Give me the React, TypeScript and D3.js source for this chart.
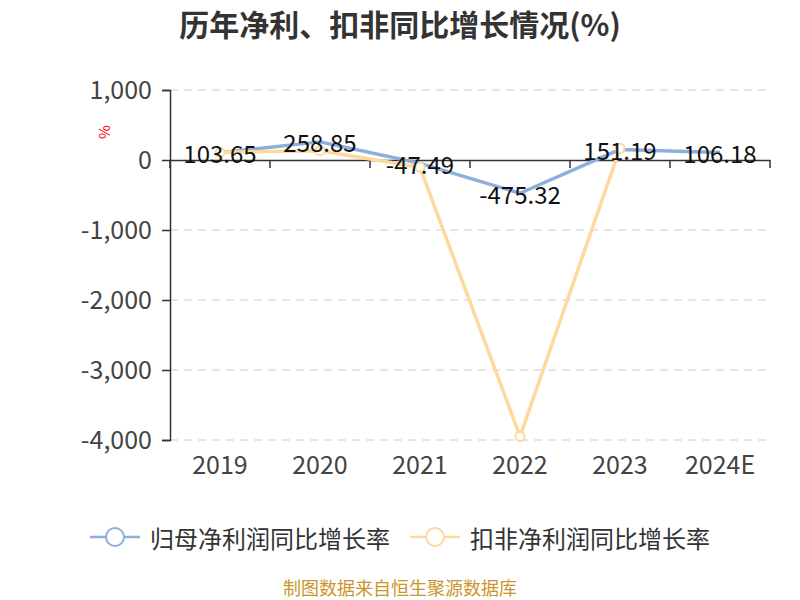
import React, { useRef, useEffect } from 'react';
import * as d3 from 'd3';

const years = ['2019', '2020', '2021', '2022', '2023', '2024E'];
const netProfitGrowth = [103.65, 258.85, -47.49, -475.32, 151.19, 106.18];
const deductedGrowth = [110, 133, -105, -3950, 167, null];
const yTicks = [1000, 0, -1000, -2000, -3000, -4000];
const seriesNames = ['归母净利润同比增长率', '扣非净利润同比增长率'];

const blue = '#8eaedd';
const yellow = '#fdd99b';
const font = '"Microsoft YaHei", "Noto Sans CJK SC", "Noto Sans", sans-serif';

const App: React.FC = () => {
  const svgRef = useRef<SVGSVGElement | null>(null);

  useEffect(() => {
    if (!svgRef.current) return;
    const svg = d3.select(svgRef.current);
    svg.selectAll('*').remove();

    const width = 800;
    const height = 600;
    svg.attr('width', width).attr('height', height).style('font-family', font);

    const x = d3.scaleBand().domain(years).range([170, 770]);
    const y = d3.scaleLinear().domain([-4000, 1000]).range([440, 90]);
    const cx = (d: string) => (x(d) as number) + x.bandwidth() / 2;

    // title
    svg.append('text')
      .attr('x', 400).attr('y', 23)
      .attr('text-anchor', 'middle').attr('dominant-baseline', 'central')
      .attr('font-size', 30).attr('font-weight', 'bold')
      .attr('fill', '#333')
      .text('历年净利、扣非同比增长情况(%)');

    // dashed grid
    svg.append('g')
      .selectAll('line')
      .data(yTicks.filter((t) => t !== 0))
      .join('line')
      .attr('x1', 170).attr('x2', 770)
      .attr('y1', (d) => y(d)).attr('y2', (d) => y(d))
      .attr('stroke', '#ccc').attr('stroke-dasharray', '8,6');

    // y axis
    const yAxis = svg.append('g').attr('transform', 'translate(170,0)')
      .call(d3.axisLeft(y).tickValues(yTicks).tickSize(8).tickPadding(10)
        .tickFormat((d) => d3.format(',')(d as number).replace('−', '-')));
    yAxis.select('.domain').attr('stroke', '#333').attr('stroke-width', 1.5);
    yAxis.selectAll('.tick line').attr('stroke', '#333').attr('stroke-width', 1.5);
    yAxis.selectAll('.tick text').attr('font-size', 25).attr('fill', '#444')
      .style('font-family', font);

    // unit label
    svg.append('text')
      .attr('transform', 'translate(106,132) rotate(-90)')
      .attr('text-anchor', 'middle').attr('dominant-baseline', 'middle')
      .attr('font-size', 15).attr('fill', 'red')
      .text('%');

    // x axis at zero
    const xAxis = svg.append('g').attr('transform', `translate(0,${y(0)})`)
      .call(d3.axisBottom(x).tickSize(8).tickSizeOuter(0).tickFormat(() => ''));
    xAxis.select('.domain').attr('stroke', '#333').attr('stroke-width', 1.5);
    xAxis.selectAll('.tick line')
      .attr('transform', `translate(${-x.bandwidth() / 2},0)`)
      .attr('stroke', '#333').attr('stroke-width', 1.5);
    xAxis.append('line')
      .attr('x1', 770).attr('x2', 770).attr('y1', 0).attr('y2', 8)
      .attr('stroke', '#333').attr('stroke-width', 1.5);

    // x labels at bottom
    svg.append('g')
      .selectAll('text')
      .data(years)
      .join('text')
      .attr('x', (d) => cx(d)).attr('y', 474)
      .attr('text-anchor', 'middle')
      .attr('font-size', 25).attr('fill', '#444')
      .text((d) => d);

    const line = d3.line<[string, number | null]>()
      .defined((d) => d[1] !== null)
      .x((d) => cx(d[0]))
      .y((d) => y(d[1] as number));

    const blueData = years.map((yr, i) => [yr, netProfitGrowth[i]] as [string, number | null]);
    const yellowData = years.map((yr, i) => [yr, deductedGrowth[i]] as [string, number | null]);

    svg.append('path').datum(blueData)
      .attr('d', line).attr('fill', 'none')
      .attr('stroke', blue).attr('stroke-width', 3.5).attr('stroke-linejoin', 'round');

    svg.append('path').datum(yellowData)
      .attr('d', line).attr('fill', 'none')
      .attr('stroke', yellow).attr('stroke-width', 3.5).attr('stroke-linejoin', 'round');

    svg.append('g')
      .selectAll('circle')
      .data(yellowData.filter((d) => d[1] !== null))
      .join('circle')
      .attr('cx', (d) => cx(d[0])).attr('cy', (d) => y(d[1] as number))
      .attr('r', 4.5)
      .attr('fill', '#fff').attr('stroke', yellow).attr('stroke-width', 2);

    // value labels for blue line
    svg.append('g')
      .selectAll('text')
      .data(blueData)
      .join('text')
      .attr('x', (d) => cx(d[0])).attr('y', (d) => y(d[1] as number))
      .attr('text-anchor', 'middle').attr('dominant-baseline', 'central')
      .attr('font-size', 24).attr('fill', '#111')
      .text((d) => (d[1] as number).toFixed(2));

    // legend
    const legend = svg.append('g');
    const items = [
      { name: seriesNames[0], color: blue, x: 90 },
      { name: seriesNames[1], color: yellow, x: 410 },
    ];
    items.forEach((it) => {
      const g = legend.append('g').attr('transform', `translate(${it.x},537)`);
      g.append('line').attr('x1', 0).attr('x2', 50).attr('y1', 0).attr('y2', 0)
        .attr('stroke', it.color).attr('stroke-width', 2.5);
      g.append('circle').attr('cx', 25).attr('cy', 0).attr('r', 9)
        .attr('fill', '#fff').attr('stroke', it.color).attr('stroke-width', 2);
      g.append('text').attr('x', 60).attr('y', 0)
        .attr('dominant-baseline', 'central')
        .attr('font-size', 24).attr('fill', '#333')
        .text(it.name);
    });

    // source
    svg.append('text')
      .attr('x', 400).attr('y', 595)
      .attr('text-anchor', 'middle')
      .attr('font-size', 18).attr('fill', '#c9962b')
      .text('制图数据来自恒生聚源数据库');
  }, []);

  return <svg ref={svgRef} style={{ position: 'absolute', left: 0, top: 0 }}></svg>;
};

export default App;
